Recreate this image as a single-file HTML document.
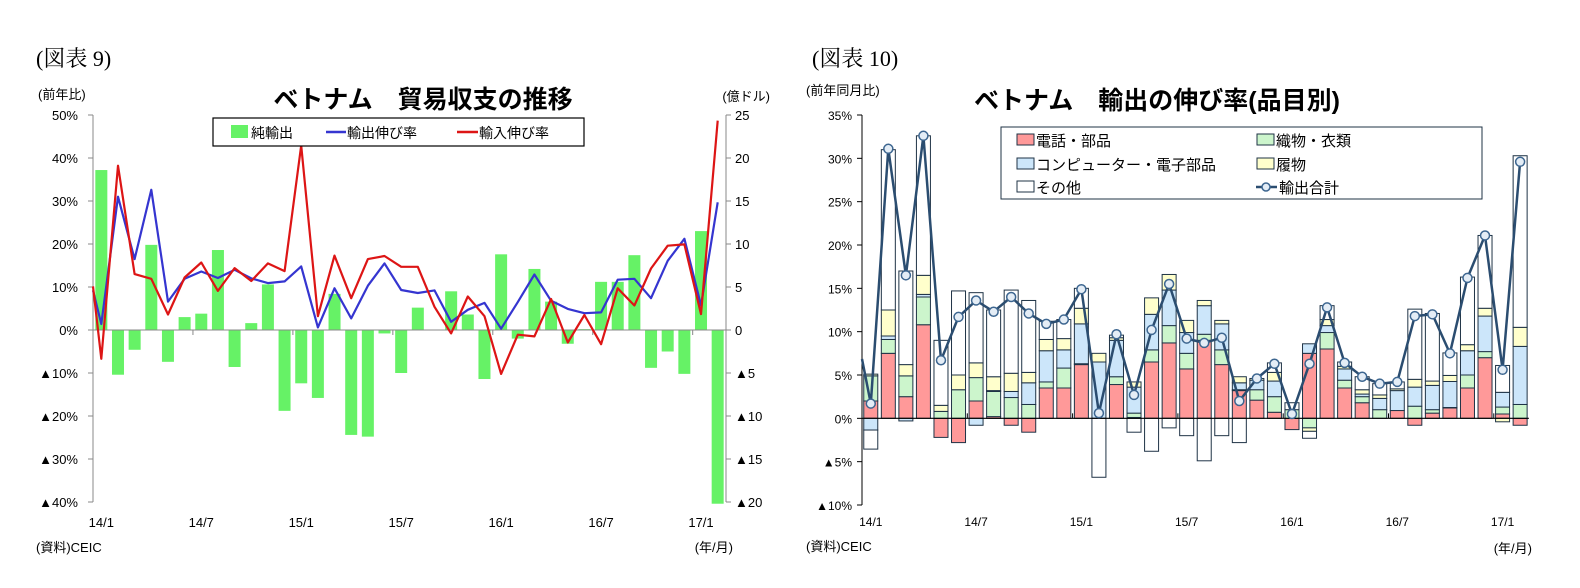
<!DOCTYPE html>
<html><head><meta charset="utf-8">
<style>
html,body{margin:0;padding:0;background:#fff;}
svg{display:block;font-family:"Liberation Sans","Noto Sans CJK JP",sans-serif;}
</style></head>
<body>
<svg id="svg" width="1580" height="588" viewBox="0 0 1580 588" xmlns="http://www.w3.org/2000/svg">
<g id="left"></g>
<g id="right"></g>
</svg>
<script>
// ---- Left chart data ----
const leftCategories = ["14/1","14/2","14/3","14/4","14/5","14/6","14/7","14/8","14/9","14/10","14/11","14/12","15/1","15/2","15/3","15/4","15/5","15/6","15/7","15/8","15/9","15/10","15/11","15/12","16/1","16/2","16/3","16/4","16/5","16/6","16/7","16/8","16/9","16/10","16/11","16/12","17/1","17/2"];
const netExports = [18.6,-5.2,-2.3,9.9,-3.7,1.5,1.9,9.3,-4.3,0.8,5.3,-9.4,-6.2,-7.9,4.2,-12.2,-12.4,-0.4,-5.0,2.6,0,4.5,1.8,-5.7,8.8,-1.0,7.1,3.3,-1.6,0.1,5.6,5.6,8.7,-4.4,-2.5,-5.1,11.5,-20.2];
const exportGrowth = [1.4,31,16.5,32.6,6.6,11.9,13.6,12.1,14,12,10.9,11.3,14.8,0.6,9.7,2.7,10.3,15.5,9.3,8.6,9.2,1.9,4.7,6.3,0.3,6.5,12.9,6.8,4.9,3.9,4.1,11.7,11.9,7.4,16.1,21.2,5.7,29.7];
const importGrowth = [-6.7,38.2,13,11.9,3.6,12.2,15.7,9.1,14.4,11.4,15.5,13.7,42.9,3.2,17.3,7.4,16.5,17.2,14.7,14.7,5.4,-0.8,7.8,3.2,-10.2,-1.1,-1.5,7.2,-2.9,3.5,-3.3,9.7,5.7,14.3,19.6,19.9,3.7,48.7];
const exportGrowthPrev = 17;
const importGrowthPrev = 27;
const leftTicksPct = [50,40,30,20,10,0,-10,-20,-30,-40];
const leftTicksRight = [25,20,15,10,5,0,-5,-10,-15,-20];
const xLabelsLeft = ["14/1","14/7","15/1","15/7","16/1","16/7","17/1"];

// ---- Right chart data ----
const rightCategories = leftCategories;
const phone = [2.0,7.5,2.5,10.8,-2.2,-2.8,2,0.2,-0.8,-1.6,3.5,3.5,6.2,0,3.9,0.1,6.5,8.7,5.7,9.0,6.2,3.2,2.1,0.7,-1.3,7.5,8,3.5,1.8,0,0.9,-0.8,0.6,1.2,3.5,7,0.5,-0.8];
const textile = [2.9,1.6,2.4,3.2,0.8,3.3,2.7,2.9,2.4,1.6,0.7,2.3,0.1,0,0.9,0.5,1.4,2,1.8,0.7,1.7,0.1,1.2,1.8,1.0,-1.1,1.9,0.9,0.7,1.0,0,1.4,0.4,0.05,1.5,0.7,0.8,1.6];
const computer = [-1.35,0.4,-0.3,0.3,0,0,-0.8,0.1,0.7,2.5,3.6,2.1,4.6,6.5,4.2,3.0,4.1,4.1,2.4,3.3,3.0,0.8,1.1,1.8,0,1.1,0.8,1.3,0.3,1.3,2.3,2.2,2.8,3.0,2.8,4.1,1.7,6.7];
const footwear = [0.2,3.0,1.3,2.2,0.7,1.7,1.7,1.6,2.1,1.2,1.3,1.3,1.8,1.0,0.3,0.6,1.9,1.8,1.4,0.6,0.4,0.7,0.2,1.0,0,-0.4,0.7,0.3,0.5,0.4,0.2,0.9,0.5,0.7,0.7,0.9,-0.4,2.2];
const other = [-2.2,18.5,10.8,16.1,7.5,9.7,8.1,7.7,9.6,8.3,2.1,2.2,2.3,-6.8,0.3,-1.6,-3.8,-1.1,-2,-4.9,-2,-2.8,0,1.1,0.8,-0.8,1.6,0.5,1.5,1.3,0.8,8.1,7.8,2.6,7.8,8.4,3.1,19.8];
const totalExports = [1.7,31.1,16.5,32.6,6.7,11.7,13.6,12.3,14,12.1,10.9,11.4,14.9,0.6,9.7,2.7,10.2,15.5,9.2,8.7,9.3,2,4.6,6.3,0.5,6.3,12.8,6.4,4.8,4.0,4.2,11.8,12,7.5,16.2,21.1,5.6,29.6];
const totalExportsPrev = 12;
const rightTicks = [35,30,25,20,15,10,5,0,-5,-10];
const xLabelsRight = ["14/1","14/7","15/1","15/7","16/1","16/7","17/1"];

const NS = "http://www.w3.org/2000/svg";
function mk(tag, attrs, parent, text){
  const e = document.createElementNS(NS, tag);
  for (const k in attrs) e.setAttribute(k, attrs[k]);
  if (text !== undefined) e.textContent = text;
  parent.appendChild(e);
  return e;
}
function fmtPct(v){ return v < 0 ? "▲" + (-v) + "%" : v + "%"; }
function fmtNum(v){ return v < 0 ? "▲" + (-v) : "" + v; }

// ================= LEFT =================
(function(){
  const g = document.getElementById('left');
  const X0 = 93, X1 = 726, yTop = 115, yBot = 502;
  const n = leftCategories.length;
  const step = (X1 - X0) / n;
  const xc = i => X0 + step * (i + 0.5);
  const yP = v => yTop + (50 - v) / 90 * (yBot - yTop);
  const yR = v => yTop + (25 - v) / 45 * (yBot - yTop);

  let t;
  t = mk('text', {x:36, y:66, 'font-size':22, 'font-family':'"Liberation Serif","Noto Serif CJK SC",serif'}, g, "(図表 9)");
   
  t = mk('text', {x:423, y:108, 'font-size':25, 'font-weight':'bold', 'text-anchor':'middle'}, g, "ベトナム　貿易収支の推移");
   
  t = mk('text', {x:38, y:99, 'font-size':13}, g, "(前年比)");
   
  t = mk('text', {x:770, y:101, 'font-size':13, 'text-anchor':'end'}, g, "(億ドル)");
   

  let a = mk('line', {x1:X0, y1:yTop, x2:X0, y2:yBot, stroke:'#888', 'stroke-width':1}, g);
   
  a = mk('line', {x1:X1, y1:yTop, x2:X1, y2:yBot, stroke:'#888', 'stroke-width':1}, g);
   
  leftTicksPct.forEach(v => {
    const y = yP(v);
    const tk = mk('line', {x1:X0-5, y1:y, x2:X0, y2:y, stroke:'#888'}, g);
     
    const lb = mk('text', {x:78, y:y+5, 'font-size':13, 'text-anchor':'end'}, g, fmtPct(v));
     
  });
  leftTicksRight.forEach(v => {
    const y = yR(v);
    const tk = mk('line', {x1:X1, y1:y, x2:X1+5, y2:y, stroke:'#888'}, g);
     
    const lb = mk('text', {x:735, y:y+5, 'font-size':13}, g, fmtNum(v));
     
  });

  const bw = 12;
  netExports.forEach((v, i) => {
    const y0 = yR(0), y1 = yR(v);
    const r = mk('rect', {x:xc(i)-bw/2, y:Math.min(y0,y1), width:bw, height:Math.abs(y1-y0), fill:'#66f266'}, g);
     
  });
  a = mk('line', {x1:X0, y1:yP(0), x2:X1, y2:yP(0), stroke:'#888', 'stroke-width':1}, g);
   
  for (let i = 0; i <= n; i += 6) {
    const x = X0 + step * i;
    const tk = mk('line', {x1:x, y1:yP(0), x2:x, y2:yP(0)+5, stroke:'#888'}, g);
     
  }
  xLabelsLeft.forEach(lbl => {
    const i = leftCategories.indexOf(lbl);
    const tx = mk('text', {x:xc(i), y:527, 'font-size':13, 'text-anchor':'middle'}, g, lbl);
     
  });

  // line starts at axis edge, interpolated toward previous (off-chart) month
  const lineOf = (arr, prev) => {
    const e0 = arr[0] + (prev - arr[0]) * ((xc(0) - X0) / step);
    return 'M' + X0 + ',' + yP(e0).toFixed(1) + ' ' + arr.map((v,i)=> 'L' + xc(i).toFixed(1) + ',' + yP(v).toFixed(1)).join(' ');
  };
  let p = mk('path', {d:lineOf(exportGrowth, exportGrowthPrev), fill:'none', stroke:'#3535d0', 'stroke-width':2.2, 'stroke-linejoin':'round'}, g);
   
  p = mk('path', {d:lineOf(importGrowth, importGrowthPrev), fill:'none', stroke:'#dd1515', 'stroke-width':2.2, 'stroke-linejoin':'round'}, g);
   

  const lg = mk('g', {}, g);
   
  mk('rect', {x:213, y:118, width:371, height:28, fill:'#fff', stroke:'#000', 'stroke-width':1.2}, lg);
  let e = mk('g', {}, lg);
   
  mk('rect', {x:231, y:125, width:17, height:13, fill:'#66f266'}, e);
  mk('text', {x:251, y:138, 'font-size':14}, e, "純輸出");
  e = mk('g', {}, lg);
   
  mk('line', {x1:326, y1:132, x2:346, y2:132, stroke:'#3535d0', 'stroke-width':2.5}, e);
  mk('text', {x:347, y:138, 'font-size':14}, e, "輸出伸び率");
  e = mk('g', {}, lg);
   
  mk('line', {x1:457, y1:132, x2:478, y2:132, stroke:'#dd1515', 'stroke-width':2.5}, e);
  mk('text', {x:479, y:138, 'font-size':14}, e, "輸入伸び率");

  t = mk('text', {x:36, y:552, 'font-size':13}, g, "(資料)CEIC");
   
  t = mk('text', {x:733, y:552, 'font-size':13, 'text-anchor':'end'}, g, "(年/月)");
   
})();

// ================= RIGHT =================
(function(){
  const g = document.getElementById('right');
  const X0 = 862, yTop = 115, yBot = 505;
  const n = rightCategories.length;
  const step = 17.55;
  const X1 = X0 + step * n;
  const xc = i => X0 + step * (i + 0.5);
  const y = v => yTop + (35 - v) / 45 * (yBot - yTop);

  let t;
  t = mk('text', {x:812, y:66, 'font-size':22, 'font-family':'"Liberation Serif","Noto Serif CJK SC",serif'}, g, "(図表 10)");
   
  t = mk('text', {x:1157, y:109, 'font-size':25, 'font-weight':'bold', 'text-anchor':'middle'}, g, "ベトナム　輸出の伸び率(品目別)");
   
  t = mk('text', {x:806, y:95, 'font-size':13}, g, "(前年同月比)");
   

  let a = mk('line', {x1:X0, y1:yTop, x2:X0, y2:yBot, stroke:'#000', 'stroke-width':1}, g);
   
  rightTicks.forEach(v => {
    const yy = y(v);
    const tk = mk('line', {x1:X0-5, y1:yy, x2:X0, y2:yy, stroke:'#000'}, g);
     
    const lb = mk('text', {x:852, y:yy+5, 'font-size':12, 'text-anchor':'end'}, g, fmtPct(v));
     
  });

  const series = [
    {arr:phone, fill:'#ff9999', name:'phone-bar'},
    {arr:textile, fill:'#ccf5cc', name:'textile-bar'},
    {arr:computer, fill:'#cce6fa', name:'computer-bar'},
    {arr:footwear, fill:'#ffffcc', name:'footwear-bar'},
    {arr:other, fill:'#ffffff', name:'other-bar'}
  ];
  const bw = 14;
  for (let i = 0; i < n; i++) {
    let pos = 0, neg = 0;
    series.forEach(s => {
      const v = s.arr[i];
      let a0, a1;
      if (v >= 0) { a0 = pos; a1 = pos + v; pos = a1; }
      else { a0 = neg; a1 = neg + v; neg = a1; }
      const r = mk('rect', {x:xc(i)-bw/2, y:Math.min(y(a0),y(a1)), width:bw, height:Math.abs(y(a1)-y(a0)), fill:s.fill, stroke:'#1f3346', 'stroke-width':1}, g);
       
    });
  }
  a = mk('line', {x1:X0, y1:y(0), x2:X1, y2:y(0), stroke:'#000', 'stroke-width':1.2}, g);
   
  for (let i = 0; i <= n; i += 6) {
    const x = X0 + step * i;
    const tk = mk('line', {x1:x, y1:y(0), x2:x, y2:y(0)-5, stroke:'#000'}, g);
     
  }
  xLabelsRight.forEach(lbl => {
    const i = rightCategories.indexOf(lbl);
    const tx = mk('text', {x:xc(i), y:526, 'font-size':12, 'text-anchor':'middle'}, g, lbl);
     
  });

  const e0 = totalExports[0] + (totalExportsPrev - totalExports[0]) * ((xc(0) - X0) / step);
  const d = 'M' + X0 + ',' + y(e0).toFixed(1) + ' ' + totalExports.map((v,i)=> 'L' + xc(i).toFixed(1) + ',' + y(v).toFixed(1)).join(' ');
  const p = mk('path', {d:d, fill:'none', stroke:'#2b4d70', 'stroke-width':2.5, 'stroke-linejoin':'round'}, g);
   
  totalExports.forEach((v,i) => {
    const c = mk('circle', {cx:xc(i), cy:y(v), r:4.5, fill:'#e4edf6', stroke:'#3d6690', 'stroke-width':1.5}, g);
     
  });

  const lg = mk('g', {}, g);
   
  mk('rect', {x:1001, y:127, width:481, height:72, fill:'#fff', stroke:'#1f3346', 'stroke-width':1}, lg);
  const entries = [
    {x:1017, y:140, fill:'#ff9999', label:'電話・部品', name:'legend-entry-phone'},
    {x:1257, y:140, fill:'#ccf5cc', label:'織物・衣類', name:'legend-entry-textile'},
    {x:1017, y:164, fill:'#cce6fa', label:'コンピューター・電子部品', name:'legend-entry-computer'},
    {x:1257, y:164, fill:'#ffffcc', label:'履物', name:'legend-entry-footwear'},
    {x:1017, y:187, fill:'#ffffff', label:'その他', name:'legend-entry-other'}
  ];
  entries.forEach(en => {
    const e = mk('g', {}, lg);
     
    mk('rect', {x:en.x, y:en.y-6, width:17, height:11, fill:en.fill, stroke:'#1f3346', 'stroke-width':1}, e);
    mk('text', {x:en.x+19, y:en.y+6, 'font-size':15}, e, en.label);
  });
  const e = mk('g', {}, lg);
   
  mk('line', {x1:1256, y1:187, x2:1277, y2:187, stroke:'#2b4d70', 'stroke-width':2.5}, e);
  mk('circle', {cx:1266, cy:187, r:4, fill:'#e4edf6', stroke:'#3d6690', 'stroke-width':1.5}, e);
  mk('text', {x:1279, y:193, 'font-size':15}, e, "輸出合計");

  t = mk('text', {x:806, y:551, 'font-size':13}, g, "(資料)CEIC");
   
  t = mk('text', {x:1532, y:553, 'font-size':13, 'text-anchor':'end'}, g, "(年/月)");
   
})();
</script>
</body></html>
